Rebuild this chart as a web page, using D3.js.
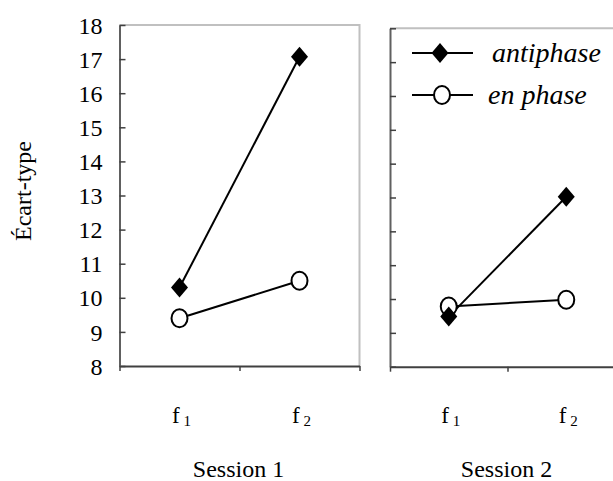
<!DOCTYPE html>
<html>
<head>
<meta charset="utf-8">
<script src="https://cdn.jsdelivr.net/npm/d3@7"></script>
<style>
  body { margin: 0; background: #fff; }
</style>
</head>
<body>
<div id="chart"></div>
<script>
// data
var categories = ["f1", "f2"];
var catLabels = [["f", "1"], ["f", "2"]];
var sessions = ["Session 1", "Session 2"];
var antiphase = [[10.3, 17.07], [9.48, 13.02]];
var enphase = [[9.4, 10.5], [9.78, 9.98]];
var yTicks = [8, 9, 10, 11, 12, 13, 14, 15, 16, 17, 18];

var serif = "'Liberation Serif', 'Times New Roman', serif";
var svgwidth = 613, svgheight = 481;

// the two panels (right one runs past the picture edge)
var panels = [
    {left: 119.5, width: 240, top: 25, bottom: 366, labels: true},
    {left: 390, width: 235, top: 28.3, bottom: 366.7, labels: false}
];

var svg = d3.select("#chart").append("svg")
        .attr("width", svgwidth)
        .attr("height", svgheight)
        .style("font-family", serif);

panels.forEach(function(p, i) {
    let g = svg.append("g")
            .attr("transform", "translate(" + p.left + "," + p.top + ")");
    let h = p.bottom - p.top;

    let x = d3.scalePoint()
            .domain(categories)
            .range([0, p.width])
            .padding(0.5);
    let xEdge = d3.scaleLinear().domain([0, 2]).range([0, p.width]);
    let y = d3.scaleLinear().domain([8, 18]).range([h, 0]);

    // light grey plot border (top / right)
    g.append("path")
        .attr("d", "M0,0H" + p.width + "V" + h)
        .attr("fill", "none")
        .attr("stroke", "#c0c0c0")
        .attr("stroke-width", 2);

    // bottom axis with category boundary ticks
    let xAxis = d3.axisBottom(xEdge).tickValues([0, 1, 2])
            .tickFormat("").tickSizeInner(5).tickSizeOuter(0);
    let gx = g.append("g")
            .attr("transform", "translate(0," + h + ")")
            .call(xAxis);
    gx.select(".domain").attr("stroke", "#404040").attr("stroke-width", 2);
    gx.selectAll(".tick line").attr("stroke", "#404040").attr("stroke-width", 1.5);

    // y axis, ticks pointing inward
    let yAxis = d3.axisLeft(y).tickValues(yTicks)
            .tickSizeInner(-6).tickSizeOuter(0).tickPadding(17)
            .tickFormat(p.labels ? d3.format("d") : "");
    let gy = g.append("g").call(yAxis)
            .attr("font-family", serif)
            .attr("font-size", 24);
    gy.select(".domain").attr("stroke", "#606060").attr("stroke-width", 2);
    gy.selectAll(".tick line").attr("stroke", "#404040").attr("stroke-width", 1.5);
    gy.selectAll(".tick text")
        .style("font-family", serif)
        .style("font-size", "24px")
        .attr("fill", "#000")
        .attr("dy", "0.34em");

    // category labels f1 / f2
    let lab = g.selectAll(".catlab")
            .data(categories)
          .enter().append("text")
            .attr("class", "catlab")
            .attr("x", d => x(d) + 2)
            .attr("y", 423 - p.top)
            .attr("text-anchor", "middle")
            .style("font-family", serif)
            .style("font-size", "23px");
    lab.append("tspan").text((d, j) => catLabels[j][0]);
    lab.append("tspan").style("font-size", "15px").attr("dy", 3)
        .text((d, j) => "\u00a0" + catLabels[j][1]);

    // session title
    g.append("text")
        .attr("x", p.width / 2 - 1)
        .attr("y", 477 - p.top)
        .attr("text-anchor", "middle")
        .style("font-family", serif)
        .style("font-size", "24px")
        .text(sessions[i]);

    let line = d3.line().x((d, j) => x(categories[j])).y(d => y(d));

    g.append("path").datum(antiphase[i])
        .attr("d", line).attr("fill", "none")
        .attr("stroke", "#000").attr("stroke-width", 2);
    g.append("path").datum(enphase[i])
        .attr("d", line).attr("fill", "none")
        .attr("stroke", "#000").attr("stroke-width", 2);

    g.selectAll(".circ")
            .data(enphase[i])
          .enter().append("ellipse")
            .attr("cx", (d, j) => x(categories[j]))
            .attr("cy", d => y(d))
            .attr("rx", 8)
            .attr("ry", 9)
            .attr("fill", "#fff")
            .attr("stroke", "#000")
            .attr("stroke-width", 2);

    g.selectAll(".diam")
            .data(antiphase[i])
          .enter().append("path")
            .attr("transform", (d, j) => "translate(" + x(categories[j]) + "," + y(d) + ")")
            .attr("d", "M0,-10L8.5,0L0,10L-8.5,0Z")
            .attr("fill", "#000");
});

// y axis title
svg.append("text")
    .attr("transform", "translate(31,191) rotate(-90)")
    .attr("text-anchor", "middle")
    .style("font-family", serif)
    .style("font-size", "24px")
    .text("Écart-type");

// legend
var legendItems = ["antiphase", "en phase"];
var legend = svg.selectAll(".legend")
        .data(legendItems)
      .enter().append("g")
        .attr("class", "legend")
        .attr("transform", (d, i) => "translate(412," + (53 + i * 42) + ")");

legend.append("line")
    .attr("x1", 0).attr("x2", 61)
    .attr("stroke", "#000").attr("stroke-width", 2);
legend.filter((d, i) => i == 0).append("path")
    .attr("transform", "translate(28,0)")
    .attr("d", "M0,-10L8.5,0L0,10L-8.5,0Z")
    .attr("fill", "#000");
legend.filter((d, i) => i == 1).append("ellipse")
    .attr("cx", 30).attr("rx", 8).attr("ry", 9)
    .attr("fill", "#fff").attr("stroke", "#000").attr("stroke-width", 2);
legend.append("text")
    .attr("x", (d, i) => i == 0 ? 80 : 76)
    .attr("y", 9)
    .style("font-family", serif)
    .style("font-size", "28px")
    .style("font-style", "italic")
    .text(d => d);
</script>
</body>
</html>
